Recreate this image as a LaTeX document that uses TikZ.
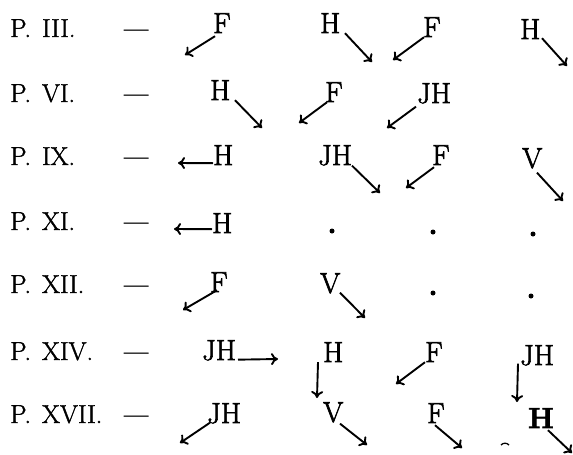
\documentclass[tikz,border=0pt]{standalone}
\usepackage{fontspec}
\usetikzlibrary{arrows.meta}
\newfontfamily\labfont{Latin Modern Roman}[FakeBold=1.6, Ligatures=TeX]
\newfontfamily\letfont{Latin Modern Roman}[FakeBold=2.2, Ligatures=TeX]
\tikzset{
  lab/.style={anchor=base west, inner sep=0pt, font=\labfont\fontsize{26}{26}\selectfont},
  lett/.style={anchor=base west, inner sep=0pt, font=\letfont\fontsize{29}{29}\selectfont},
  arr/.style={line width=1.9pt, -{To[length=7pt,width=12pt]}},
  spot/.style={circle, fill, inner sep=0pt, minimum size=5pt},
}
\newcommand\plabel[1]{P.\hspace{11pt}#1}
\begin{document}
\begin{tikzpicture}[x=1pt,y=-1pt]
\useasboundingbox (0,0) rectangle (573,455);

% row labels and dashes
\node[lab] (l1) at (10,37)  {\plabel{III.}};
\node[lab] (l2) at (10,102) {\plabel{VI.}};
\node[lab] (l3) at (10,165) {\plabel{IX.}};
\node[lab] (l4) at (10,230) {\plabel{XI.}};
\node[lab] (l5) at (10,293) {\plabel{XII.}};
\node[lab] (l6) at (10,360) {\plabel{XIV.}};
\node[lab] (l7) at (10,423) {\plabel{XVII.}};
\foreach \y/\n in {37/1,102/2,165/3,230/4,293/5,360/6,423/7}
  \node[lab] (d\n) at (124,\y) {—};

% row III
\node[lett] (F1) at (213,33) {F};
\node[lett] (H1) at (320,33) {H};
\node[lett] (F2) at (423,37) {F};
\node[lett] (H2) at (520,39) {H};
\coordinate (e1) at (185,55);
\coordinate (e2) at (372,62);
\coordinate (e3) at (393,60);
\coordinate (e4) at (567,66);
\draw[arr] ([shift={(2,3)}]F1.south west) -- (e1);
\draw[arr] ([shift={(25,0)}]H1.south west) -- (e2);
\draw[arr] ([shift={(1,0)}]F2.south west) -- (e3);
\draw[arr] ([shift={(22,-1)}]H2.south west) -- (e4);

% row VI
\node[lett] (H3) at (210,100) {H};
\node[lett] (F3) at (325,102) {F};
\node[lett] (JH1) at (417,103) {JH};
\coordinate (e5) at (262,128);
\coordinate (e6) at (299,123);
\coordinate (e7) at (387,128);
\draw[arr] ([shift={(25,0)}]H3.south west) -- (e5);
\draw[arr] ([shift={(2,0)}]F3.south west) -- (e6);
\draw[arr] ([shift={(-1,3)}]JH1.south west) -- (e7);

% row IX
\node[lett] (H4) at (213,165) {H};
\node[lett] (JH2) at (318,165) {JH};
\node[lett] (F4) at (432,165) {F};
\node[lett] (V1) at (522,168) {V};
\coordinate (e8) at (178,163);
\coordinate (e9) at (380,193);
\coordinate (e10) at (406,188);
\coordinate (e11) at (563,201);
\draw[arr] ([shift={(0,-2)}]H4.south west) -- (e8);
\draw[arr] ([shift={(34,0)}]JH2.south west) -- (e9);
\draw[arr] ([shift={(2,2)}]F4.south west) -- (e10);
\draw[arr] ([shift={(15,4)}]V1.south west) -- (e11);

% row XI
\node[lett] (H5) at (212,233) {H};
\coordinate (e12) at (174,229);
\draw[arr] ([shift={(0,-4)}]H5.south west) -- (e12);
\node[spot] (p1) at (332,231) {};
\node[spot] (p2) at (433,232) {};
\node[spot] (p3) at (533,234) {};

% row XII
\node[lett] (F5) at (210,292) {F};
\node[lett] (V2) at (320,293) {V};
\coordinate (e13) at (183,310);
\coordinate (e14) at (365,318);
\draw[arr] ([shift={(7,-2)}]F5.south west) -- (e13);
\draw[arr] ([shift={(20,-1)}]V2.south west) -- (e14);
\node[spot] (p4) at (433,293) {};
\node[spot] (p5) at (531,296) {};

% row XIV
\node[lett] (JH3) at (202,360) {JH};
\node[lett] (H6) at (323,362) {H};
\node[lett] (F6) at (425,362) {F};
\node[lett] (JH4) at (520,365) {JH};
\coordinate (e15) at (278,359);
\coordinate (e16) at (317,398);
\coordinate (e17) at (396,384);
\coordinate (e18) at (517,402);
\draw[arr] ([shift={(36,-1)}]JH3.south west) -- (e15);
\draw[arr] ([shift={(-5,0)}]H6.south west) -- (e16);
\draw[arr] ([shift={(0,0)}]F6.south west) -- (e17);
\draw[arr] ([shift={(-2,-2)}]JH4.south west) -- (e18);

% row XVII
\node[lett] (JH5) at (207,423) {JH};
\node[lett] (V3) at (323,422) {V};
\node[lett] (F7) at (427,423) {F};
\node[lett, font=\letfont\fontsize{29}{29}\selectfont\bfseries] (H7) at (528,428) {H};
\coordinate (e19) at (180,443);
\coordinate (e20) at (367,445);
\coordinate (e21) at (462,448);
\coordinate (e22) at (572,453);
\draw[arr] ([shift={(3,-1)}]JH5.south west) -- (e19);
\draw[arr] ([shift={(17,1)}]V3.south west) -- (e20);
\draw[arr] ([shift={(8,2)}]F7.south west) -- (e21);
\draw[arr] ([shift={(20,2)}]H7.south west) -- (e22);
\draw[line width=1.3pt] (501,445) to[bend left=50] (509,445);
\end{tikzpicture}
\end{document}
